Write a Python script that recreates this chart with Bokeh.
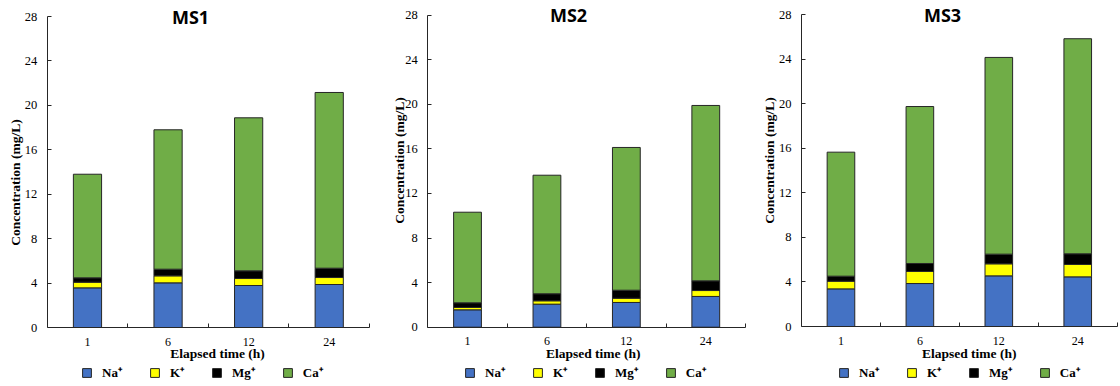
import math
from bokeh.plotting import figure
from bokeh.models import (ColumnDataSource, Range1d, FixedTicker, SingleIntervalTicker,
                          Legend, LegendItem, Label)
from bokeh.layouts import row
from bokeh.embed import file_html
from bokeh.resources import INLINE

# ---------------- data ----------------
times = ["1", "6", "12", "24"]
ions = ["Na\u207a", "K\u207a", "Mg\u207a", "Ca\u207a"]
colors = ["#4472C4", "#FFFF00", "#000000", "#70AD47"]
y_ticks_interval = 4
y_max = 28
x_title = "Elapsed time (h)"
y_title = "Concentration (mg/L)"

ms1_na = [3.57, 4.02, 3.78, 3.87]
ms1_k = [0.51, 0.63, 0.63, 0.63]
ms1_mg = [0.39, 0.60, 0.69, 0.84]
ms1_ca = [9.33, 12.55, 13.78, 15.82]

ms2_na = [1.56, 2.07, 2.22, 2.76]
ms2_k = [0.21, 0.30, 0.38, 0.53]
ms2_mg = [0.42, 0.63, 0.72, 0.87]
ms2_ca = [8.13, 10.64, 12.81, 15.74]

ms3_na = [3.38, 3.86, 4.55, 4.46]
ms3_k = [0.69, 1.08, 1.08, 1.11]
ms3_mg = [0.45, 0.72, 0.87, 0.96]
ms3_ca = [11.14, 14.10, 17.67, 19.32]

SERIF = "Liberation Serif"
H = 386


def make_panel(name, na, k, mg, ca, width, ax_px, right_px, y0_px, ytop_px,
               ylab_px, ylab_py, xlab_px, title_px, legend_px):
    """All *_px / *_py values are pixel positions inside this figure (layout only)."""
    n = len(times)
    xs = [i + 0.5 for i in range(n)]
    src = ColumnDataSource(dict(x=xs, na=na, k=k, mg=mg, ca=ca))

    ppx = (right_px - ax_px) / n
    ppu = (y0_px - ytop_px) / y_max
    dx = lambda px: (px - ax_px) / ppx
    dy = lambda py: (y0_px - py) / ppu

    p = figure(width=width, height=H, x_range=Range1d(dx(0), dx(width)),
               y_range=Range1d(dy(H), dy(0)), title=None,
               output_backend="svg", toolbar_location=None,
               min_border_left=0, min_border_right=0, min_border_top=0, min_border_bottom=0)
    p.xgrid.visible = False
    p.ygrid.visible = False
    p.outline_line_color = None
    p.background_fill_color = "white"
    p.border_fill_color = "white"

    rs = p.vbar_stack(["na", "k", "mg", "ca"], x="x", width=0.35, source=src,
                      fill_color=colors, line_color="#262626", line_width=1)

    # x axis drawn at value 0
    xa = p.xaxis[0]
    xa.fixed_location = 0
    xa.bounds = (0, n)
    xa.ticker = FixedTicker(ticks=xs, minor_ticks=[i + 1 for i in range(n)])
    xa.major_label_overrides = {x: t for x, t in zip(xs, times)}
    xa.major_tick_in = 0
    xa.major_tick_out = 0
    xa.minor_tick_in = 4
    xa.minor_tick_out = 0
    xa.minor_tick_line_color = "#262626"
    xa.axis_line_color = "#262626"
    xa.major_label_text_font = SERIF
    xa.major_label_text_font_size = "12px"
    xa.major_label_text_color = "black"
    xa.major_label_standoff = 10

    # y axis drawn at x = 0, limited to 0..y_max
    ya = p.yaxis[0]
    ya.fixed_location = 0
    ya.bounds = (0, y_max)
    ya.ticker = SingleIntervalTicker(interval=y_ticks_interval, num_minor_ticks=0)
    ya.major_tick_in = 4
    ya.major_tick_out = 0
    ya.minor_tick_line_color = None
    ya.major_tick_line_color = "#262626"
    ya.axis_line_color = "#262626"
    ya.major_label_text_font = SERIF
    ya.major_label_text_font_size = "12.5px"
    ya.major_label_text_color = "black"
    ya.major_label_standoff = 10

    # axis titles
    p.add_layout(Label(x=dx(xlab_px), y=dy(353), text=x_title, text_font=SERIF,
                       text_font_style="bold", text_font_size="13.5px",
                       text_align="center", text_baseline="middle", text_color="black"))
    p.add_layout(Label(x=dx(ylab_px), y=dy(ylab_py), text=y_title, text_font=SERIF,
                       text_font_style="bold", text_font_size="13.5px", angle=math.pi / 2,
                       text_align="center", text_baseline="middle", text_color="black"))

    # panel title
    p.add_layout(Label(x=dx(title_px), y=y_max, text=name, text_font="Open Sans",
                       text_font_style="bold", text_font_size="18px",
                       text_align="center", text_baseline="middle",
                       text_color="black"))

    legend = Legend(items=[LegendItem(label=ions[i], renderers=[rs[i]]) for i in range(len(ions))],
                    orientation="horizontal", location=(legend_px, 5),
                    glyph_width=11, glyph_height=11, label_height=14, label_width=0,
                    label_standoff=10, spacing=27, padding=0, margin=0,
                    border_line_color=None, background_fill_alpha=0,
                    label_text_font=SERIF, label_text_font_style="bold",
                    label_text_font_size="13px", label_text_color="black")
    p.add_layout(legend, "center")
    return p


p1 = make_panel("MS1", ms1_na, ms1_k, ms1_mg, ms1_ca, 385,
                46.7, 369, 327, 16, 15, 182, 217, 190, 81)
p2 = make_panel("MS2", ms2_na, ms2_k, ms2_mg, ms2_ca, 373,
                42.3, 360, 326.7, 14.7, 14.3, 160, 207.7, 183, 79)
p3 = make_panel("MS3", ms3_na, ms3_k, ms3_mg, ms3_ca, 362,
                43, 358.7, 326, 14.3, 11.3, 160, 210.7, 184, 80)

layout = row(p1, p2, p3)
open("out.html", "w").write(file_html(layout, INLINE))
